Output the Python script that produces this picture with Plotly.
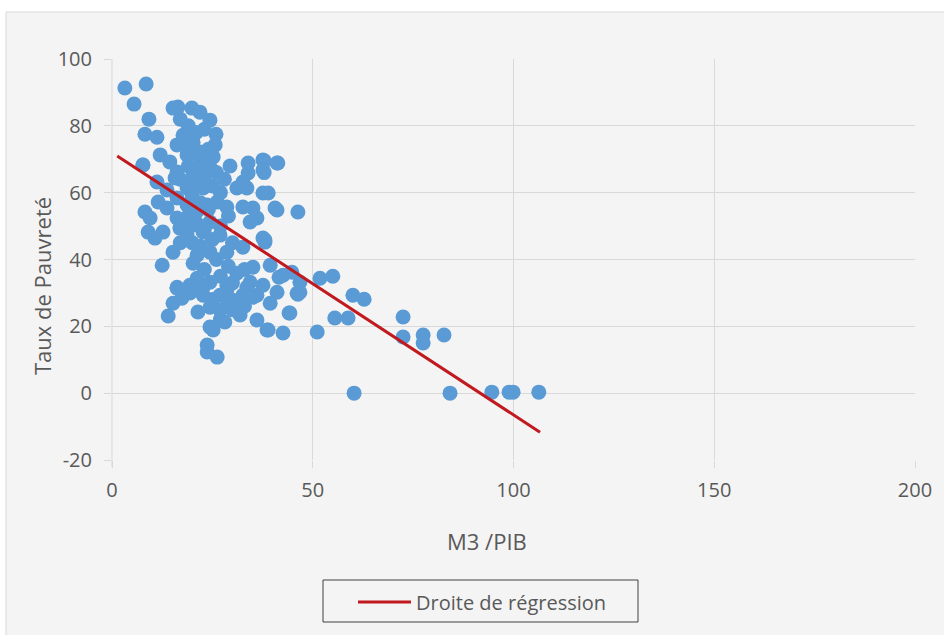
import plotly.graph_objects as go

# Observations: money supply ratio (M3 / PIB) and poverty rate
m3_pib = [
    3.2, 8.5, 5.5, 9.2, 8.2, 7.7, 11.2, 7.7, 11.2, 13.7, 8.2, 9.5, 11.5, 13.7, 16.2,
    9.0, 10.7, 12.7, 16.9, 15.2, 12.5, 14.0,
    15.2, 16.4, 19.9, 21.9, 24.4, 25.9, 25.7, 25.2, 24.7, 29.4, 33.9, 37.6, 41.3,
    37.6, 33.9, 32.6, 31.1, 18.7, 22.7, 17.7, 16.2, 20.2, 21.9, 18.7, 12.0, 14.4,
    16.2, 20.2, 21.9, 23.7, 18.7, 15.7,
    18.7, 21.2, 23.7, 26.2, 28.6, 33.6, 37.6, 32.6, 35.1, 36.1, 40.6, 46.3, 34.4,
    37.6, 32.6, 28.6, 24.4, 21.2, 20.2, 26.9, 22.7, 18.7, 24.4, 20.2, 18.7, 16.2,
    35.1, 39.4, 42.6, 44.8, 46.8, 46.8, 31.1, 34.4, 37.6, 41.1, 28.6, 24.4, 21.2,
    19.4, 16.2, 17.4, 22.7, 26.9, 32.6, 36.1,
    16.2, 15.2, 19.4, 21.4, 24.4, 24.4, 25.2, 28.1, 26.9, 31.9, 30.1, 36.1, 38.6,
    39.4, 42.6, 44.3, 46.1, 23.7, 26.2, 23.7, 35.1, 33.6, 22.7, 28.6,
    38.1, 51.8, 55.0, 60.0, 62.8, 55.5, 58.8, 51.1, 72.5, 72.5, 77.5, 77.5, 82.7,
    60.3, 84.2, 94.6, 98.9, 99.9, 106.3, 46.3, 44.1, 38.9, 41.6, 37.9, 41.1, 37.9,
    38.9, 41.1, 38.1,
    17.0, 19.0, 21.0, 23.0, 18.0, 20.0, 22.0, 24.0, 19.0, 17.0, 21.0, 23.0, 25.0,
    20.0, 22.0, 24.0, 19.0, 21.0, 23.0, 17.0, 20.0, 22.0, 25.0, 27.0, 29.0, 27.0,
    28.0, 26.0, 30.0, 29.0, 26.0, 23.0, 27.0, 30.0, 33.0, 25.0, 30.0, 33.0, 27.0,
    29.0,
]
taux_pauvrete = [
    91.3, 92.5, 86.5, 82.0, 77.5, 68.3, 76.6, 68.3, 63.2, 60.8, 54.2, 52.4, 57.2, 55.4, 58.4,
    48.2, 46.4, 48.2, 49.4, 42.2, 38.3, 23.1,
    85.3, 85.6, 85.3, 84.1, 81.7, 77.5, 74.3, 70.7, 67.1, 68.0, 68.9, 69.8, 68.9,
    66.8, 65.9, 63.2, 61.4, 61.4, 61.4, 77.2, 74.3, 75.1, 72.2, 71.3, 71.3, 69.2,
    66.2, 66.2, 68.3, 69.2, 63.2, 64.4,
    52.4, 54.5, 56.3, 57.2, 55.7, 61.4, 59.9, 55.7, 55.4, 52.4, 55.4, 54.2, 51.2,
    46.4, 43.7, 42.2, 42.2, 41.3, 38.9, 47.3, 48.2, 47.3, 51.2, 50.3, 56.3, 52.4,
    37.7, 38.3, 35.3, 36.2, 33.2, 30.2, 35.9, 33.2, 32.3, 30.2, 32.3, 33.2, 34.4,
    32.3, 31.4, 28.4, 29.3, 29.3, 29.3, 29.3,
    31.7, 26.9, 30.0, 24.3, 25.7, 19.8, 18.9, 21.3, 24.9, 23.4, 27.8, 21.9, 18.9,
    26.9, 18.0, 24.0, 29.9, 14.4, 10.8, 12.3, 28.7, 31.7, 31.7, 30.8,
    45.2, 34.4, 35.0, 29.3, 28.1, 22.5, 22.5, 18.3, 22.8, 16.8, 17.4, 15.0, 17.4,
    0.0, 0.0, 0.3, 0.3, 0.3, 0.3, 29.6, 24.0, 18.9, 34.7, 69.5, 68.9, 66.0,
    59.9, 54.8, 45.8,
    82.0, 80.0, 78.0, 79.0, 75.0, 72.0, 70.0, 73.0, 68.0, 64.0, 63.0, 65.0, 62.0,
    59.0, 57.0, 55.0, 53.0, 51.0, 49.0, 45.0, 45.0, 44.0, 46.0, 50.0, 53.0, 60.0,
    64.0, 66.0, 45.0, 38.0, 40.0, 37.0, 35.0, 33.0, 37.0, 28.0, 25.0, 26.0, 22.0,
    27.0,
]

# Fitted regression line: taux = intercept + slope * M3/PIB
reg_intercept = 72.0
reg_slope = -0.785
reg_x = [1.3, 106.6]
reg_y = [reg_intercept + reg_slope * v for v in reg_x]

x_ticks = [0, 50, 100, 150, 200]
y_ticks = [-20, 0, 20, 40, 60, 80, 100]
y_tick_labels = ["-20", "0", "20", "40", "60", "80", "100"]

FONT = "Open Sans"
TXT = "#595959"
GRID = "#d9d9d9"

# plot area in pixels: x 112..915, y 59..460
PL, PR, PT, PB = 112, 915, 59, 460
W, H = 944, 635


def px(xp):
    return (xp - PL) / (PR - PL)


def py(yp):
    return (PB - yp) / (PB - PT)


fig = go.Figure()
fig.add_trace(go.Scatter(
    x=m3_pib, y=taux_pauvrete, mode="markers",
    marker=dict(color="#5b9bd5", size=15, line=dict(width=0)),
    showlegend=False, hoverinfo="x+y",
))
fig.add_trace(go.Scatter(
    x=reg_x, y=reg_y, mode="lines", name="Droite de régression",
    line=dict(color="#c0191f", width=3),
))

axis_common = dict(
    showgrid=True, gridcolor=GRID, gridwidth=1,
    ticks="outside", ticklen=7, tickcolor=GRID, tickwidth=1,
    tickfont=dict(family=FONT, size=20, color=TXT),
    zeroline=False, showline=False,
)

fig.update_xaxes(range=[0, 200], tickvals=x_ticks, **axis_common, ticklabelstandoff=5)
fig.update_yaxes(range=[-20, 100], tickvals=y_ticks, ticktext=y_tick_labels,
                 **axis_common, ticklabelstandoff=8)

shapes = [
    # chart frame
    dict(type="rect", xref="paper", yref="paper", layer="below",
         x0=px(6), x1=px(960), y0=py(660), y1=py(12),
         fillcolor="#f4f4f4", line=dict(color=GRID, width=1)),
    # legend frame
    dict(type="rect", xref="paper", yref="paper",
         x0=px(323), x1=px(638), y0=py(622), y1=py(580),
         fillcolor="rgba(0,0,0,0)", line=dict(color="#404040", width=1)),
    # vertical axis line
    dict(type="line", xref="paper", yref="paper",
         x0=0, x1=0, y0=py(467), y1=1, line=dict(color=GRID, width=1)),
]

annotations = [
    dict(text="M3 /PIB", xref="paper", yref="paper", x=px(487), y=py(541),
         showarrow=False, font=dict(family=FONT, size=22, color=TXT),
         xanchor="center", yanchor="middle"),
    dict(text="Taux de Pauvreté", xref="paper", yref="paper", x=px(42), y=py(286),
         showarrow=False, textangle=-90, font=dict(family=FONT, size=22, color=TXT),
         xanchor="center", yanchor="middle"),
]

fig.update_layout(
    width=W, height=H,
    margin=dict(l=PL, r=W - PR, t=PT, b=H - PB),
    paper_bgcolor="white", plot_bgcolor="white",
    shapes=shapes, annotations=annotations,
    showlegend=True,
    legend=dict(
        orientation="h", x=px(353), xanchor="left", y=py(602), yanchor="middle",
        bgcolor="rgba(0,0,0,0)", borderwidth=0, itemwidth=53,
        font=dict(family=FONT, size=20, color=TXT),
    ),
    font=dict(family=FONT, color=TXT),
)

fig.write_html("out.html")
